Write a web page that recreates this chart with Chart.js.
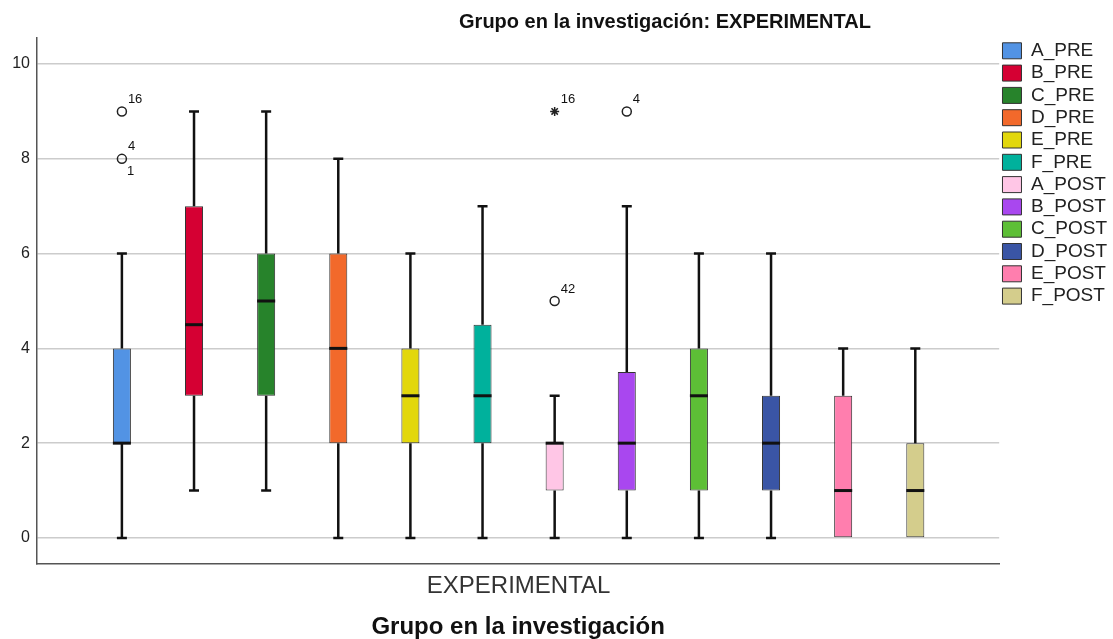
<!DOCTYPE html>
<html>
<head>
<meta charset="utf-8">
<script src="https://cdn.jsdelivr.net/npm/chart.js@4.4.0/dist/chart.umd.min.js"></script>
<style>
  html, body { margin: 0; padding: 0; background: #fff; }
  #wrap { width: 1113px; height: 639px; position: relative; }
</style>
</head>
<body>
<div id="wrap"><canvas id="boxplot"></canvas></div>
<script>
'use strict';

// one box per variable, all in the EXPERIMENTAL group
var groups = ['A_PRE', 'B_PRE', 'C_PRE', 'D_PRE', 'E_PRE', 'F_PRE',
              'A_POST', 'B_POST', 'C_POST', 'D_POST', 'E_POST', 'F_POST'];
var colors = ['#5293e4', '#d50033', '#27832b', '#f2692b', '#e2d70c', '#00b19c',
              '#ffc6e6', '#a947ef', '#5dbf36', '#3a55a5', '#ff7eae', '#d4cd8c'];

var whiskerLow  = [0, 1, 1, 0, 0, 0,   0, 0, 0, 0, 0, 0];
var q1          = [2, 3, 3, 2, 2, 2,   1, 1, 1, 1, 0, 0];
var medians     = [2, 4.5, 5, 4, 3, 3, 2, 2, 3, 2, 1, 1];
var q3          = [4, 7, 6, 6, 4, 4.5, 2, 3.5, 4, 3, 3, 2];
var whiskerHigh = [6, 9, 9, 8, 6, 7,   3, 7, 6, 6, 4, 4];

// outliers: which box, value, case numbers, extreme (star) or not
var outlierGroup   = [0, 0, 6, 6, 7];
var outlierValue   = [9, 8, 9, 5, 9];
var outlierCases   = [['16'], ['4', '1'], ['16'], ['42'], ['4']];
var outlierExtreme = [false, false, true, false, false];

var yTicks = [0, 2, 4, 6, 8, 10];
var xTickLabel = 'EXPERIMENTAL';
var chartTitle = 'Grupo en la investigación: EXPERIMENTAL';
var xTitle = 'Grupo en la investigación';

var FONT = '"Liberation Sans", Arial, sans-serif';
Chart.defaults.font.family = FONT;
Chart.defaults.color = '#222';

var datasets = groups.map(function (name, i) {
    return {
        label: name,
        data: [{x: i, y: [q1[i], q3[i]]}],
        backgroundColor: colors[i],
        borderColor: '#333',
        borderWidth: 1,
        borderSkipped: false,
        grouped: false,
        barPercentage: 0.25,
        categoryPercentage: 1
    };
});

datasets.push({
    type: 'scatter',
    label: 'outliers',
    data: outlierGroup.map(function (g, k) { return {x: g, y: outlierValue[k]}; }),
    pointStyle: outlierExtreme.map(function (e) { return e ? 'star' : 'circle'; }),
    pointRadius: 4.5,
    pointHoverRadius: 4.5,
    borderColor: '#222',
    backgroundColor: 'rgba(0,0,0,0)',
    borderWidth: 1.5
});

// whiskers, caps, medians and case labels drawn from the scales
var whiskerPlugin = {
    id: 'whiskers',
    afterDatasetsDraw: function (chart) {
        var ctx = chart.ctx;
        var xs = chart.scales.x;
        var ys = chart.scales.y;
        ctx.save();
        ctx.strokeStyle = '#111';
        ctx.lineCap = 'butt';
        groups.forEach(function (name, i) {
            var bar = chart.getDatasetMeta(i).data[0];
            var cx = xs.getPixelForValue(i);
            var half = bar.width / 2;
            var capHalf = 5;
            var yLow = ys.getPixelForValue(whiskerLow[i]);
            var yQ1 = ys.getPixelForValue(q1[i]);
            var yQ3 = ys.getPixelForValue(q3[i]);
            var yHigh = ys.getPixelForValue(whiskerHigh[i]);
            var yMed = ys.getPixelForValue(medians[i]);

            ctx.lineWidth = 2.5;
            ctx.beginPath();
            if (whiskerHigh[i] > q3[i]) {
                ctx.moveTo(cx, yQ3);
                ctx.lineTo(cx, yHigh);
                ctx.moveTo(cx - capHalf, yHigh);
                ctx.lineTo(cx + capHalf, yHigh);
            }
            if (whiskerLow[i] < q1[i]) {
                ctx.moveTo(cx, yQ1);
                ctx.lineTo(cx, yLow);
                ctx.moveTo(cx - capHalf, yLow);
                ctx.lineTo(cx + capHalf, yLow);
            }
            ctx.stroke();

            ctx.lineWidth = 3;
            ctx.beginPath();
            ctx.moveTo(cx - half, yMed);
            ctx.lineTo(cx + half, yMed);
            ctx.stroke();
        });

        ctx.fillStyle = '#111';
        ctx.font = '13px ' + FONT;
        ctx.textAlign = 'left';
        ctx.textBaseline = 'middle';
        outlierGroup.forEach(function (g, k) {
            var px = xs.getPixelForValue(g);
            var py = ys.getPixelForValue(outlierValue[k]);
            var cases = outlierCases[k];
            ctx.fillText(cases[0], px + 6, py - 12);
            if (cases.length > 1) {
                ctx.fillText(cases[1], px + 5, py + 13);
            }
        });
        ctx.restore();
    }
};

var titlePlugin = {
    id: 'topTitle',
    afterDraw: function (chart) {
        var ctx = chart.ctx;
        ctx.save();
        ctx.fillStyle = '#111';
        ctx.font = 'bold 20px ' + FONT;
        ctx.textAlign = 'center';
        ctx.textBaseline = 'middle';
        ctx.fillText(chartTitle, 665, 22);
        ctx.restore();
    }
};

new Chart(document.getElementById('boxplot'), {
    type: 'bar',
    data: {datasets: datasets},
    plugins: [whiskerPlugin, titlePlugin],
    options: {
        responsive: true,
        maintainAspectRatio: false,
        animation: false,
        layout: {
            padding: {top: 38, right: -4, left: 0, bottom: 0}
        },
        plugins: {
            title: {display: false},
            tooltip: {enabled: false},
            legend: {
                position: 'right',
                align: 'start',
                labels: {
                    boxWidth: 19,
                    boxHeight: 16,
                    padding: 3.3,
                    color: '#222',
                    font: {size: 19},
                    filter: function (item) { return item.datasetIndex < groups.length; }
                }
            }
        },
        scales: {
            x: {
                type: 'linear',
                min: -1.177,
                max: 12.163,
                offset: false,
                grid: {display: false, drawTicks: false},
                border: {display: true, color: '#555', width: 1.5},
                afterBuildTicks: function (scale) {
                    scale.ticks = [{value: (groups.length - 1) / 2}];
                },
                ticks: {
                    autoSkip: false,
                    maxRotation: 0,
                    padding: 8,
                    color: '#333',
                    font: {size: 24},
                    callback: function () { return xTickLabel; }
                },
                title: {
                    display: true,
                    text: xTitle,
                    color: '#111',
                    font: {size: 24, weight: 'bold', lineHeight: 1},
                    padding: {top: 0, bottom: 0}
                },
                afterFit: function (scale) { scale.height = 75; }
            },
            y: {
                type: 'linear',
                min: -0.55,
                max: 10.55,
                grid: {color: '#cccccc', lineWidth: 1.5, drawTicks: false},
                border: {display: true, color: '#555', width: 1.5},
                afterBuildTicks: function (scale) {
                    scale.ticks = yTicks.map(function (v) { return {value: v}; });
                },
                ticks: {
                    padding: 7,
                    color: '#222',
                    font: {size: 16}
                },
                afterFit: function (scale) { scale.width = 37; }
            }
        }
    }
});
</script>
</body>
</html>
